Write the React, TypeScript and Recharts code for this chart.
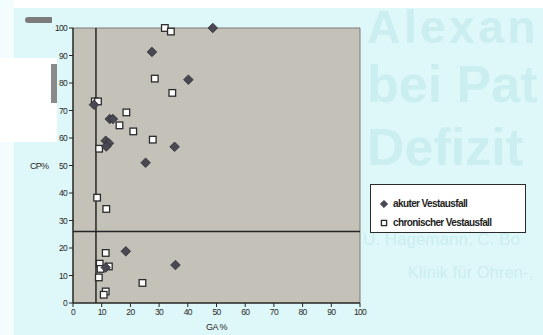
import {
  ScatterChart,
  Scatter,
  XAxis,
  YAxis,
  CartesianGrid,
  ReferenceLine,
  Legend,
} from "recharts";

const gaTicks = [0, 10, 20, 30, 40, 50, 60, 70, 80, 90, 100];
const cpTicks = [0, 10, 20, 30, 40, 50, 60, 70, 80, 90, 100];

// akuter Vestausfall
const acuteGA = [48.7, 27.5, 40.2, 7.3, 12.8, 13.9, 11.4, 12.5, 11.6, 35.4, 25.3, 18.4, 35.7, 11.4];
const acuteCP = [100, 91.3, 81.2, 72.1, 66.9, 66.9, 59.0, 58.1, 56.9, 56.8, 51.0, 18.8, 13.8, 12.9];

// chronischer Vestausfall
const chronicGA = [32.0, 34.1, 28.5, 34.6, 7.6, 8.7, 18.6, 16.2, 21.0, 27.8, 9.1, 8.4, 11.6, 11.4, 9.3, 9.6, 12.5, 9.0, 24.2, 11.4, 10.7];
const chronicCP = [100, 98.7, 81.6, 76.4, 73.3, 73.3, 69.3, 64.6, 62.4, 59.4, 56.1, 38.3, 34.2, 18.2, 14.3, 12.4, 13.3, 9.3, 7.3, 4.2, 3.0];

const seriesNames = ["akuter Vestausfall", "chronischer Vestausfall"];
const splitGA = 8;
const splitCP = 26;

const acute = acuteGA.map((ga, i) => ({ ga, cp: acuteCP[i] }));
const chronic = chronicGA.map((ga, i) => ({ ga, cp: chronicCP[i] }));

const INK = "#262626";
const tickStyle = { fontSize: 8.5, fill: "#2a2a2a", letterSpacing: -0.7 };

function Diamond({ cx, cy, r = 4.8 }: any) {
  return (
    <path
      d={`M${cx},${cy - r}L${cx + r},${cy}L${cx},${cy + r}L${cx - r},${cy}Z`}
      fill="#4a4953"
      stroke="#2e2d35"
      strokeWidth={0.8}
    />
  );
}

function Square({ cx, cy, s = 3.3 }: any) {
  return (
    <rect
      x={cx - s}
      y={cy - s}
      width={s * 2}
      height={s * 2}
      fill="#ffffff"
      stroke="#2b2b2b"
      strokeWidth={1.3}
    />
  );
}

function LegendBox({ payload }: any) {
  return (
    <div
      style={{
        width: 156,
        height: 49,
        boxSizing: "border-box",
        border: "1.5px solid #2a2a2a",
        background: "#ffffff",
        padding: "9px 0 0 8px",
        fontFamily: "'Liberation Sans', Arial, sans-serif",
        fontWeight: "bold",
        fontSize: 10,
        letterSpacing: -0.6,
        color: "#1e1e1e",
      }}
    >
      {(payload || []).map((entry: any, i: number) => (
        <div key={`item-${i}`} style={{ display: "flex", alignItems: "center", height: 19 }}>
          <svg width={10} height={10} style={{ marginRight: 4 }}>
            {entry.value === seriesNames[0] ? (
              <Diamond cx={5} cy={5} r={3.6} />
            ) : (
              <Square cx={5} cy={5} s={2.6} />
            )}
          </svg>
          <span>{entry.value}</span>
        </div>
      ))}
    </div>
  );
}

const ghost = "#cbeef1";
const ghostBig = {
  position: "absolute" as const,
  left: 367,
  fontFamily: "'Liberation Sans', Arial, sans-serif",
  fontWeight: "bold" as const,
  fontSize: 52,
  lineHeight: "44px",
  color: ghost,
  whiteSpace: "nowrap" as const,
};

export default function App() {
  return (
    <div
      style={{
        position: "absolute",
        left: 0,
        top: 0,
        width: 543,
        height: 335,
        overflow: "hidden",
        background: "#def7f8",
        fontFamily: "'Liberation Sans', Arial, sans-serif",
      }}
    >
      {/* scan borders */}
      <div style={{ position: "absolute", left: 0, top: 0, width: 543, height: 8, background: "#ffffff" }} />
      <div style={{ position: "absolute", left: 0, top: 0, width: 14, height: 335, background: "#f4fdfd" }} />
      <div style={{ position: "absolute", left: 0, top: 58, width: 57, height: 84, background: "#ffffff" }} />

      {/* faded page text behind the chart (only the part the scan shows) */}
      <div style={{ ...ghostBig, top: 4, fontSize: 46, lineHeight: "46px", letterSpacing: 3.5 }}>Alexan</div>
      <div style={{ ...ghostBig, top: 62 }}>bei Pat</div>
      <div style={{ ...ghostBig, top: 125 }}>Defizit</div>
      <div
        style={{
          position: "absolute",
          left: 363,
          top: 231,
          fontSize: 17,
          lineHeight: "17px",
          color: ghost,
          whiteSpace: "nowrap",
        }}
      >
        U. Hagemann, C. Bo
      </div>
      <div
        style={{
          position: "absolute",
          left: 408,
          top: 265,
          fontSize: 16,
          lineHeight: "16px",
          letterSpacing: 0.3,
          color: ghost,
          whiteSpace: "nowrap",
        }}
      >
        Klinik für Ohren-,
      </div>

      <div style={{ position: "absolute", left: 0, top: 0 }}>
        <ScatterChart width={543} height={335} margin={{ top: 28, right: 183, bottom: 2, left: 0 }}>
          <CartesianGrid fill="#c4c1b9" stroke="none" horizontal={false} vertical={false} />
          <XAxis
            dataKey="ga"
            type="number"
            domain={[0, 100]}
            ticks={gaTicks}
            interval={0}
            height={30}
            tickSize={4}
            tick={tickStyle}
            axisLine={{ stroke: INK, strokeWidth: 1.5 }}
            tickLine={{ stroke: INK }}
            label={{ value: "GA %", position: "insideBottom", offset: 3, fontSize: 9, fill: "#2a2a2a", letterSpacing: -0.5 }}
          />
          <YAxis
            dataKey="cp"
            type="number"
            domain={[0, 100]}
            ticks={cpTicks}
            interval={0}
            width={73}
            tickSize={4}
            tick={tickStyle}
            axisLine={{ stroke: INK, strokeWidth: 1.5 }}
            tickLine={{ stroke: INK }}
            label={{ value: "CP%", position: "insideLeft", offset: 30, fontSize: 9, fill: "#2a2a2a", letterSpacing: -0.7 }}
          />
          <ReferenceLine y={100} stroke="#7d7b76" strokeWidth={1} />
          <ReferenceLine x={100} stroke="#7d7b76" strokeWidth={1} />
          <ReferenceLine x={splitGA} stroke={INK} strokeWidth={1.5} />
          <ReferenceLine y={splitCP} stroke={INK} strokeWidth={1.5} />
          <Scatter name={seriesNames[1]} data={chronic} shape={<Square />} isAnimationActive={false} />
          <Scatter name={seriesNames[0]} data={acute} shape={<Diamond />} isAnimationActive={false} />
          <Legend
            layout="vertical"
            align="center"
            verticalAlign="middle"
            content={<LegendBox />}
            wrapperStyle={{ left: 370, top: 184, width: 156, height: 49 }}
          />
        </ScatterChart>
      </div>

      {/* scan artefacts over the top-left corner */}
      <div style={{ position: "absolute", left: 25, top: 17, width: 27, height: 6, background: "#7b7b7b", borderRadius: "3px 1px 1px 3px" }} />
      <div style={{ position: "absolute", left: 51, top: 64, width: 6, height: 39, background: "#8a8a8a" }} />
    </div>
  );
}
